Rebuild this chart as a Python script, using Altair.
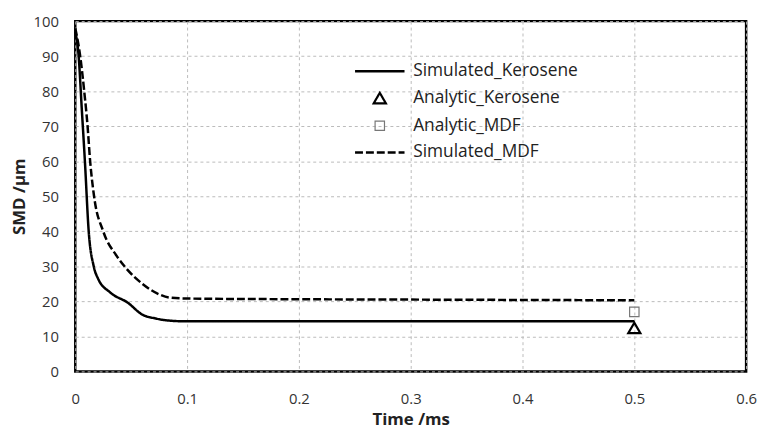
import altair as alt
import pandas as pd

# Simulated kerosene curve
t_ker = [0, 0.003, 0.0058, 0.0086, 0.012, 0.0165, 0.0205, 0.031, 0.047, 0.06, 0.072, 0.081, 0.099, 0.2, 0.3, 0.4, 0.5]
smd_ker = [97, 90, 75, 60, 40, 30, 26.4, 22.6, 19.6, 16.2, 15.1, 14.6, 14.3, 14.3, 14.3, 14.3, 14.3]

# Simulated MDF curve
t_mdf = [0, 0.0044, 0.008, 0.011, 0.0133, 0.0168, 0.025, 0.037, 0.044, 0.06, 0.075, 0.084, 0.1, 0.2, 0.3, 0.4, 0.5]
smd_mdf = [98, 90, 80, 70, 60, 50, 40, 33, 30, 25, 22, 21.1, 20.8, 20.6, 20.5, 20.4, 20.3]

# Analytic points
t_an = [0.5, 0.5]
smd_an = [12.4, 17.0]
an_names = ["Analytic_Kerosene", "Analytic_MDF"]

series_order = ["Simulated_Kerosene", "Analytic_Kerosene", "Analytic_MDF", "Simulated_MDF"]

lines = pd.DataFrame(
    {"t": t_ker + t_mdf,
     "smd": smd_ker + smd_mdf,
     "series": ["Simulated_Kerosene"] * len(t_ker) + ["Simulated_MDF"] * len(t_mdf)}
)
points = pd.DataFrame({"t": t_an, "smd": smd_an, "series": an_names})

FONT = "Open Sans"
leg = alt.Legend(title=None)
LINE_SYMBOL = "M-5,0H5"

x = alt.X("t:Q", scale=alt.Scale(domain=[0, 0.6], nice=False),
          axis=alt.Axis(title="Time /ms", values=[0, 0.1, 0.2, 0.3, 0.4, 0.5, 0.6], format="~g"))
y = alt.Y("smd:Q", scale=alt.Scale(domain=[0, 100], nice=False),
          axis=alt.Axis(title="SMD /µm", values=list(range(0, 101, 10))))

dash_enc = alt.StrokeDash(
    "series:N",
    scale=alt.Scale(domain=series_order, range=[[1, 0], [1, 0], [1, 0], [8, 3]]),
    legend=leg,
)
color_scale = alt.Scale(domain=series_order, range=["black", "black", "#777777", "black"])

line_layer = alt.Chart(lines).mark_line(strokeWidth=2.5, interpolate="monotone").encode(
    x=x, y=y,
    strokeDash=dash_enc,
    color=alt.Color("series:N", scale=color_scale, legend=leg),
    detail="series:N",
)

point_layer = alt.Chart(points).mark_point(filled=False, opacity=1).encode(
    x=x, y=y,
    shape=alt.Shape("series:N", scale=alt.Scale(domain=series_order,
                    range=[LINE_SYMBOL, "triangle-up", "square", LINE_SYMBOL]), legend=leg),
    size=alt.Size("series:N", scale=alt.Scale(type="ordinal", domain=series_order,
                  range=[100, 150, 90, 100]), legend=leg),
    strokeWidth=alt.StrokeWidth("series:N", scale=alt.Scale(type="ordinal", domain=series_order,
                  range=[2.5, 2.2, 1.2, 2.5]), legend=leg),
    color=alt.Color("series:N", scale=color_scale, legend=leg),
)

chart = (
    alt.layer(line_layer, point_layer)
    .properties(width=678, height=354,
                autosize=alt.AutoSizeParams(type="none"),
                padding={"left": 68, "top": 11, "right": 12, "bottom": 61})
    .configure_view(stroke="black", strokeWidth=2.5)
    .configure_axis(
        grid=True, gridColor="#bbbbbb", gridDash=[3, 3], gridWidth=1,
        domain=False, ticks=False, labelFlush=False,
        labelFont=FONT, labelFontSize=15, labelColor="#333333",
        titleFont=FONT, titleFontSize=17, titleFontWeight="bold", titleColor="#222222",
    )
    .configure_axisX(labelPadding=20, titlePadding=6)
    .configure_axisY(labelPadding=17, titlePadding=5)
    .configure_legend(
        orient="none", legendX=299, legendY=42,
        labelFont=FONT, labelFontSize=17.5, labelColor="#222222", labelLimit=400,
        rowPadding=8, labelOffset=25, symbolFillColor="white",
    )
)

chart.save("out.html", embed_options={"renderer": "svg", "actions": False})
